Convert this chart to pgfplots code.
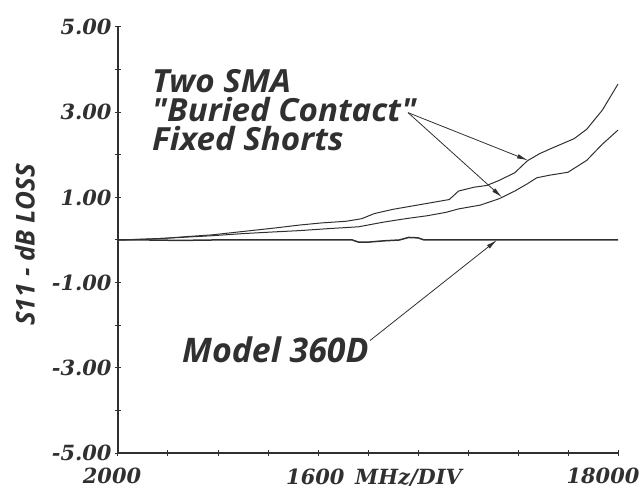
\documentclass[border=0pt]{standalone}
\usepackage{fontspec}
\setmainfont{DejaVu Serif}
\newfontfamily\annot{Open Sans}
\usepackage{pgfplots}
\pgfplotsset{compat=1.18}
\usetikzlibrary{arrows.meta}
\definecolor{ink}{HTML}{303030}

\pgfplotstableread{
f y
2000 0.00
2800 0.02
3500 0.04
4200 0.08
5000 0.12
6000 0.20
7000 0.28
7800 0.35
8500 0.40
9300 0.44
9800 0.50
10200 0.62
10800 0.72
11900 0.86
12600 0.95
12900 1.15
13400 1.24
13800 1.28
14200 1.40
14700 1.58
15100 1.86
15500 2.03
15900 2.16
16600 2.38
17000 2.60
17500 3.05
18000 3.66
}\tabupper

\pgfplotstableread{
f y
2000 0.00
3000 0.02
4000 0.06
5000 0.10
6000 0.15
7000 0.19
7800 0.22
8800 0.27
9700 0.31
10500 0.42
11200 0.50
11900 0.57
12500 0.65
12900 0.73
13600 0.82
14200 0.97
14700 1.15
15100 1.32
15400 1.46
15800 1.52
16400 1.59
17000 1.87
17500 2.25
18000 2.58
}\tablower

\pgfplotstableread{
f y
2000 0.00
3000 0.00
4000 -0.01
5000 0.00
6000 0.00
7000 0.00
8000 0.00
9500 0.00
9700 -0.05
10000 -0.05
10500 -0.02
11000 0.00
11300 0.06
11600 0.05
11800 0.00
13000 0.00
18000 0.00
}\tabflat

\begin{document}
\begin{tikzpicture}
\begin{axis}[name=ax, scale only axis, width=500bp, height=426bp,
  xmin=2000, xmax=18000, ymin=-5, ymax=5,
  scaled x ticks=false, scaled y ticks=false,
  axis lines=left, axis line style={ink, line width=1.2bp, -},
  xtick={2000,3600,5200,6800,8400,10000,11600,13200,14800,16400,18000},
  xticklabels={2000,,,,,,,,,,{\kern-18bp 18000}},
  ytick={-5,-4,-3,-2,-1,0,1,2,3,4,5},
  yticklabels={-5.00,,-3.00,,-1.00,,1.00,,3.00,,5.00},
  tick align=center, major tick length=6bp, tick style={ink, line width=1bp},
  ticklabel style={font=\fontsize{21}{21}\selectfont\bfseries\itshape, text=ink},
  xticklabel style={xshift=-6bp, yshift=-8bp},
  clip=false]
\addplot[ink, line width=1bp] table {\tabupper};
\addplot[ink, line width=1bp] table {\tablower};
\addplot[ink, line width=1.5bp] table {\tabflat};
\node[anchor=base west, xscale=1.04, font=\annot\fontsize{32}{32}\selectfont\bfseries\itshape, text=ink, inner sep=0pt] at (axis cs:3088,3.47) {Two SMA};
\node[anchor=base west, xscale=1.04, font=\annot\fontsize{32}{32}\selectfont\bfseries\itshape, text=ink, inner sep=0pt] at (axis cs:3088,2.77) {"Buried Contact"};
\node[anchor=base west, xscale=1.04, font=\annot\fontsize{32}{32}\selectfont\bfseries\itshape, text=ink, inner sep=0pt] at (axis cs:3088,2.11) {Fixed Shorts};
\node[anchor=base west, font=\annot\fontsize{34}{34}\selectfont\bfseries\itshape, text=ink, inner sep=0pt] at (axis cs:4048,-2.88) {Model 360D};
\draw[ink, line width=0.8bp, -{Latex[length=11bp,width=4.5bp]}] (axis cs:11280,2.99) -- (axis cs:15120,1.87);
\draw[ink, line width=0.8bp, -{Latex[length=11bp,width=4.5bp]}] (axis cs:11280,2.99) -- (axis cs:14290,1.0);
\draw[ink, line width=0.8bp, -{Latex[length=11bp,width=4.5bp]}] (axis cs:10064,-2.36) -- (axis cs:14128,0.0);
\end{axis}
\node[anchor=north, inner sep=0pt, font=\fontsize{21}{21}\selectfont\bfseries\itshape, text=ink] at ([xshift=6bp,yshift=-16bp]ax.south) {1600\, MHz/DIV};
\node[rotate=90, font=\annot\fontsize{26}{26}\selectfont\bfseries\itshape, text=ink, inner sep=0pt] at ([xshift=-93bp,yshift=-5bp]ax.west) {S11 - dB LOSS};
\pgfresetboundingbox
\path ([shift={(-118bp,-36bp)}]ax.south west) rectangle ([shift={(25bp,27bp)}]ax.north east);
\end{tikzpicture}
\end{document}
